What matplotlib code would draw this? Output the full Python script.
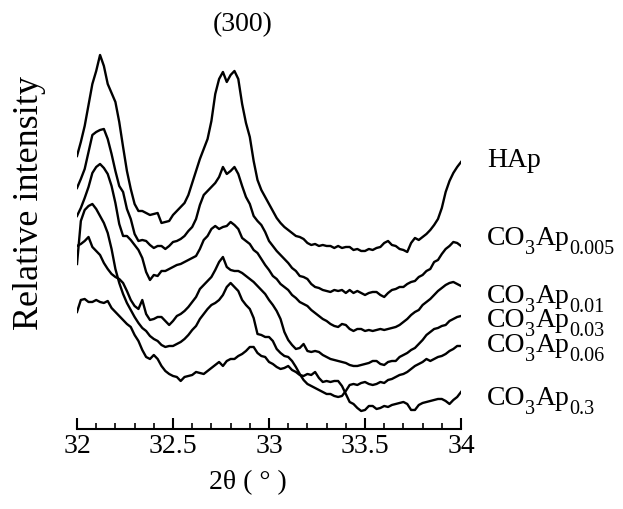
import numpy as np
import matplotlib
matplotlib.use('Agg')
import matplotlib.pyplot as plt
from matplotlib.ticker import MultipleLocator
from matplotlib.transforms import IdentityTransform

plt.rcParams['font.family'] = ['Liberation Serif', 'DejaVu Serif']

# 2theta grid (deg) the traces were read at
two_theta = np.linspace(32, 34, 101)

# stacked intensities (arb. units, already offset)
hap = [273, 287, 303, 324, 345, 358, 374, 363, 345, 336,
       327, 307, 282, 258, 240, 225, 218, 218, 216, 214,
       215, 216, 206, 207, 208, 214, 218, 222, 226, 234,
       246, 258, 270, 280, 290, 308, 335, 350, 357, 347,
       354, 358, 350, 325, 306, 292, 268, 249, 239, 232,
       225, 218, 211, 206, 202, 199, 196, 193, 192, 190,
       186, 184, 185, 183, 184, 183, 183, 181, 183, 181,
       182, 182, 179, 180, 178, 178, 180, 179, 181, 182,
       186, 188, 184, 183, 180, 179, 177, 186, 191, 189,
       192, 195, 199, 204, 210, 221, 237, 248, 256, 262, 267]
co3_0005 = [241, 250, 260, 277, 294, 297, 299, 300, 290, 275,
            258, 243, 237, 220, 210, 195, 188, 189, 188, 184,
            181, 183, 183, 180, 183, 187, 188, 190, 193, 198,
            202, 210, 224, 234, 238, 242, 246, 252, 262, 255,
            258, 262, 255, 243, 232, 225, 213, 208, 204, 197,
            188, 183, 178, 174, 170, 166, 161, 158, 153, 152,
            150, 145, 142, 141, 139, 138, 137, 139, 138, 139,
            136, 139, 136, 138, 136, 134, 136, 137, 137, 134,
            132, 136, 139, 140, 142, 142, 145, 147, 148, 152,
            154, 158, 160, 167, 169, 175, 180, 183, 187, 186, 183]
co3_001 = [213, 221, 231, 242, 256, 262, 265, 261, 255, 243,
           226, 205, 193, 193, 189, 184, 179, 171, 157, 149,
           154, 153, 158, 158, 160, 162, 164, 165, 167, 169,
           171, 173, 180, 189, 193, 200, 203, 200, 202, 203,
           207, 204, 200, 191, 188, 185, 179, 176, 170, 164,
           159, 153, 150, 145, 142, 139, 134, 131, 127, 125,
           123, 119, 116, 113, 110, 108, 105, 103, 102, 105,
           104, 100, 98, 100, 100, 98, 99, 98, 99, 100,
           99, 100, 101, 102, 104, 107, 110, 114, 117, 119,
           124, 127, 130, 134, 138, 141, 144, 146, 147, 145, 143]
co3_003 = [183, 185, 188, 192, 182, 178, 174, 166, 160, 155,
           152, 150, 146, 138, 129, 123, 120, 129, 115, 109,
           110, 112, 112, 108, 104, 108, 113, 115, 118, 122,
           127, 132, 140, 144, 148, 152, 159, 167, 172, 162,
           159, 158, 158, 156, 153, 150, 147, 143, 139, 135,
           129, 124, 118, 110, 97, 89, 84, 80, 81, 85,
           78, 77, 78, 77, 74, 72, 70, 69, 68, 67,
           66, 64, 63, 63, 64, 65, 66, 68, 68, 65,
           64, 67, 68, 68, 72, 74, 76, 79, 81, 85,
           89, 94, 97, 100, 101, 103, 104, 108, 110, 112, 113]
co3_006 = [165, 208, 219, 223, 225, 220, 213, 206, 196, 180,
           160, 146, 135, 126, 119, 112, 106, 101, 98, 93,
           90, 88, 84, 82, 83, 83, 85, 87, 90, 94,
           99, 103, 110, 115, 120, 124, 126, 129, 134, 142,
           146, 142, 138, 129, 124, 120, 111, 95, 94, 92,
           92, 88, 80, 76, 73, 72, 68, 62, 55, 49,
           45, 43, 41, 39, 37, 35, 35, 33, 32, 33,
           38, 44, 45, 44, 46, 47, 45, 44, 45, 47,
           46, 49, 50, 52, 54, 55, 57, 60, 63, 65,
           67, 70, 68, 70, 72, 73, 75, 78, 80, 83, 83]
co3_03 = [117, 129, 130, 127, 127, 129, 127, 126, 128, 121,
          117, 113, 109, 105, 102, 94, 88, 79, 72, 70,
          74, 70, 63, 58, 55, 53, 52, 48, 52, 53,
          54, 57, 56, 55, 58, 61, 64, 67, 63, 68,
          70, 70, 73, 75, 78, 82, 82, 76, 73, 72,
          67, 65, 62, 60, 61, 63, 59, 57, 54, 53,
          55, 54, 57, 51, 47, 48, 47, 48, 48, 43,
          35, 27, 25, 21, 18, 19, 23, 23, 20, 21,
          23, 22, 24, 25, 26, 27, 25, 19, 19, 24,
          26, 27, 28, 29, 30, 30, 28, 25, 29, 32, 37]

series = [hap, co3_0005, co3_001, co3_003, co3_006, co3_03]
# sample names: (main, subscript) pieces
names = [[('HAp', False)]] + [
    [('CO', False), ('3', True), ('Ap', False), (c, True)]
    for c in ['0.005', '0.01', '0.03', '0.06', '0.3']]
name_baseline = [343, 265, 207, 183, 158, 105]   # px from bottom

fig = plt.figure(figsize=(6.23, 5.10), dpi=100)
ax = fig.add_axes([0.1236, 0.1569, 0.6164, 0.7647])

for s in series:
    ax.plot(two_theta, s, color='black', lw=1.7, solid_joinstyle='round')

ax.set_xlim(32, 34)
ax.set_ylim(0, 390)
for sp in ['left', 'right', 'top']:
    ax.spines[sp].set_visible(False)
ax.spines['bottom'].set_linewidth(1.5)
ax.set_yticks([])
ax.set_xticks([32, 32.5, 33, 33.5, 34])
ax.set_xticklabels(['32', '32.5', '33', '33.5', '34'])
ax.xaxis.set_minor_locator(MultipleLocator(0.1))
ax.tick_params(axis='x', which='major', direction='in', length=8, width=1.5,
               labelsize=20, pad=3)
ax.tick_params(axis='x', which='minor', direction='in', length=4, width=1.2)

fig.text(0.390, 0.951, '(300)', fontsize=20, ha='center', va='center')
fig.text(0.398, 0.053, '2θ ( ° )', fontsize=20, ha='center', va='center')
fig.text(0.048, 0.602, 'Relative intensity', fontsize=26, rotation=90,
         ha='center', va='center')

# right-hand sample names with real subscripts, piece by piece
fig.canvas.draw()
r = fig.canvas.get_renderer()
for parts, yb in zip(names, name_baseline):
    x = 487
    for txt, sub in parts:
        t = fig.text(x, yb - 9 if sub else yb, txt, fontsize=14.5 if sub else 20,
                     va='baseline', ha='left', transform=IdentityTransform())
        x = t.get_window_extent(renderer=r).x1

fig.savefig('out.png', dpi=100)
